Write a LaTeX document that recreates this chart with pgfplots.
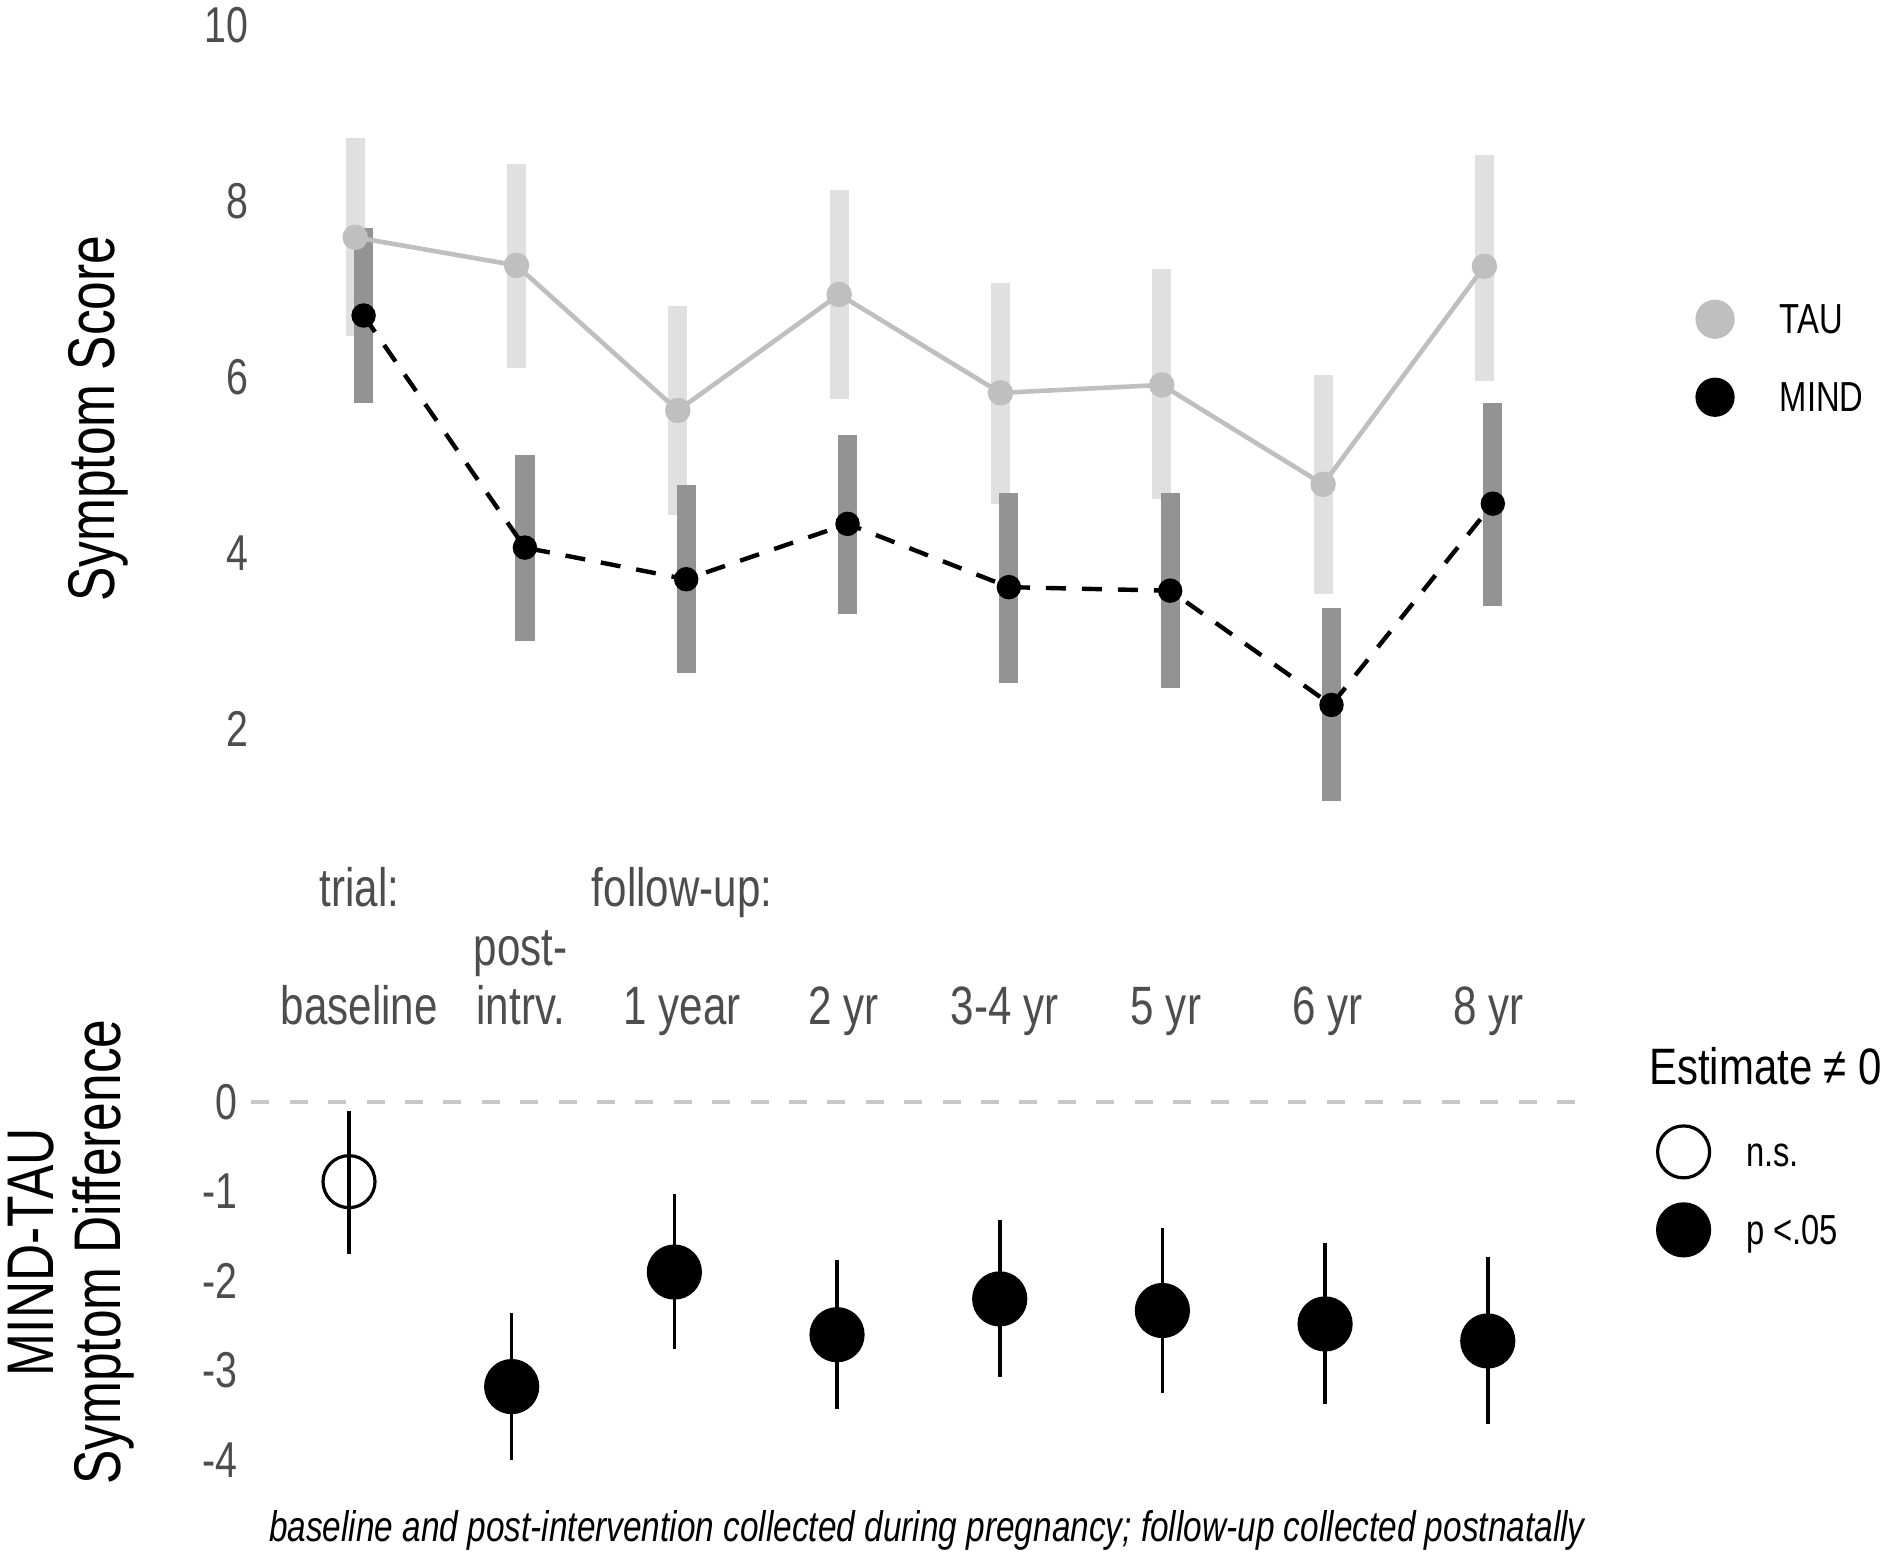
\documentclass[border=0pt]{standalone}
\usepackage{fontspec}
\setmainfont{Liberation Sans}[FakeStretch=0.78]
\usepackage{graphicx}
\usepackage{pgfplots}
\pgfplotsset{compat=1.18}
\usepackage{pgfplotstable}

\definecolor{tickgray}{HTML}{4D4D4D}
\definecolor{taubar}{HTML}{E0E0E0}
\definecolor{mindbar}{HTML}{939393}
\definecolor{taucol}{HTML}{BFBFBF}
\definecolor{zerocol}{HTML}{C8C8C8}

\newcommand{\ticklab}{\fontsize{12.6}{15}\selectfont}
\newcommand{\catlab}{\fontsize{13.5}{14.75}\selectfont}
\newcommand{\axlab}{\fontsize{16.5}{16.7}\selectfont}
\newcommand{\leglab}{\fontsize{10.5}{12}\selectfont}
\newcommand{\legtitle}{\fontsize{12.8}{14}\selectfont}
\newcommand{\capfont}{\fontsize{10.7}{12}\selectfont\itshape}
\newcommand{\stk}[1]{\begin{tabular}[b]{@{}c@{}}#1\end{tabular}}

% TAU: estimate, CI plus, CI minus
\pgfplotstableread{
x y ep em
0 7.59 1.13 1.12
1 7.27 1.15 1.17
2 5.62 1.19 1.19
3 6.94 1.19 1.19
4 5.82 1.25 1.26
5 5.91 1.32 1.30
6 4.78 1.24 1.25
7 7.26 1.27 1.30
}\taudata

% MIND
\pgfplotstableread{
x y ep em
0 6.70 1.00 1.00
1 4.06 1.05 1.06
2 3.70 1.07 1.07
3 4.33 1.01 1.03
4 3.61 1.07 1.09
5 3.57 1.11 1.11
6 2.27 1.10 1.09
7 4.56 1.15 1.16
}\minddata

% MIND-TAU difference, not significant
\pgfplotstableread{
x y ep em
0 -0.89 0.79 0.81
}\diffns

% MIND-TAU difference, p < .05
\pgfplotstableread{
x y ep em
1 -3.18 0.82 0.82
2 -1.90 0.87 0.86
3 -2.60 0.84 0.83
4 -2.20 0.88 0.87
5 -2.33 0.92 0.92
6 -2.48 0.90 0.90
7 -2.67 0.94 0.93
}\diffsig

\begin{document}
\begin{tikzpicture}
\useasboundingbox (0,0) rectangle (470.5pt,388pt);

% ---------------- top panel ----------------
\begin{axis}[
  at={(65.65pt,183.85pt)}, anchor=south west,
  scale only axis, width=330.7pt, height=202.2pt,
  xmin=-0.6, xmax=7.6, ymin=1, ymax=10.2,
  axis line style={draw=none}, tick style={draw=none},
  major tick length=0pt,
  clip=false,
  ytick={2,4,6,8,10},
  xtick={0,...,7},
  xticklabels={{\stk{trial:\\ \\baseline}},{\stk{post-\\intrv.}},{\stk{follow-up:\\ \\1 year}},2 yr,3-4 yr,5 yr,6 yr,8 yr},
  /pgf/number format/assume math mode=true,
  yticklabel style={font=\ticklab, text=tickgray},
  xticklabel style={font=\catlab, text=tickgray, anchor=base, yshift=-51.85pt},
  ylabel={Symptom Score},
  ylabel style={font=\axlab, at={(rel axis cs:-0.1244,0.492)}, anchor=center},
  legend image code/.code={\draw[#1] plot coordinates {(0pt,0pt)};},
  legend cell align=left,
  legend style={at={(axis cs:8.287,6.214)}, anchor=west, draw=none, fill=none,
    inner sep=0pt, outer sep=0pt, row sep=0pt, column sep=11.5pt, font=\leglab,
    nodes={inner sep=0pt, outer sep=0pt, minimum height=19.5pt, text height=0.72em, text depth=0pt}},
]
% confidence bars
\addplot[draw=none, mark=none, forget plot, xshift=-1.05pt,
  error bars/.cd, y dir=both, y explicit, error mark=none,
  error bar style={draw=taubar, line width=4.7pt}]
  table[x=x, y=y, y error plus=ep, y error minus=em]{\taudata};
\addplot[draw=none, mark=none, forget plot, xshift=1.05pt,
  error bars/.cd, y dir=both, y explicit, error mark=none,
  error bar style={draw=mindbar, line width=4.8pt}]
  table[x=x, y=y, y error plus=ep, y error minus=em]{\minddata};
% lines and points
\addplot[taucol, line width=1.15pt, mark=*, mark size=2.6pt, mark options={solid, fill=taucol}, forget plot, xshift=-1.05pt]
  table[x=x, y=y]{\taudata};
\addplot[black, line width=1.1pt, dash pattern=on 5pt off 4pt, mark=*, mark size=2.5pt, mark options={solid, fill=black}, forget plot, xshift=1.05pt]
  table[x=x, y=y]{\minddata};
\addlegendimage{only marks, mark=*, mark size=4.7pt, color=taucol, mark options={fill=taucol}}
\addlegendentry{TAU}
\addlegendimage{only marks, mark=*, mark size=4.7pt, color=black, mark options={fill=black}}
\addlegendentry{MIND}
\end{axis}

% ---------------- bottom panel ----------------
\begin{axis}[
  at={(62.85pt,19.65pt)}, anchor=south west,
  scale only axis, width=333.5pt, height=96.2pt,
  xmin=-0.6, xmax=7.6, ymin=-4.15, ymax=0.15,
  axis line style={draw=none}, tick style={draw=none},
  major tick length=0pt,
  clip=false,
  ytick={-4,-3,-2,-1,0},
  xtick=\empty,
  /pgf/number format/assume math mode=true,
  yticklabel style={font=\ticklab, text=tickgray},
  ylabel={MIND-TAU\\Symptom Difference},
  ylabel style={font=\axlab, align=center, at={(rel axis cs:-0.1350,0.575)}, anchor=center},
  legend image code/.code={\draw[#1] plot coordinates {(0pt,0pt)};},
  legend cell align=left,
  legend style={at={(axis cs:8.044,-0.993)}, anchor=west, draw=none, fill=none,
    inner sep=0pt, outer sep=0pt, row sep=0pt, column sep=9.15pt, font=\leglab,
    nodes={inner sep=0pt, outer sep=0pt, minimum height=19.5pt, text height=0.72em, text depth=0pt}},
]
\addplot[zerocol, line width=1pt, dash pattern=on 4.5pt off 5.1pt, forget plot]
  coordinates {(-0.6,0) (7.6,0)};
\addplot[draw=none, mark=none, forget plot,
  error bars/.cd, y dir=both, y explicit, error mark=none,
  error bar style={draw=black, line width=0.9pt}]
  table[x=x, y=y, y error plus=ep, y error minus=em]{\diffns};
\addplot[draw=none, mark=none, forget plot,
  error bars/.cd, y dir=both, y explicit, error mark=none,
  error bar style={draw=black, line width=0.9pt}]
  table[x=x, y=y, y error plus=ep, y error minus=em]{\diffsig};
\addplot[only marks, mark=o, mark size=6.5pt, mark options={line width=0.8pt, black}]
  table[x=x, y=y]{\diffns};
\addlegendentry{n.s.}
\addplot[only marks, mark=*, mark size=6.5pt, mark options={line width=0.8pt, black, fill=black}]
  table[x=x, y=y]{\diffsig};
\addlegendentry{p <.05}
\end{axis}

\node[anchor=base west, font=\legtitle, inner sep=0pt] at (412.1pt,116.75pt) {\scalebox{1.05}[1]{Estimate ≠ 0}};
\node[anchor=base east, font=\capfont, inner sep=0pt] at (396.4pt,2.6pt)
  {baseline and post-intervention collected during pregnancy; follow-up collected postnatally};
\end{tikzpicture}
\end{document}
